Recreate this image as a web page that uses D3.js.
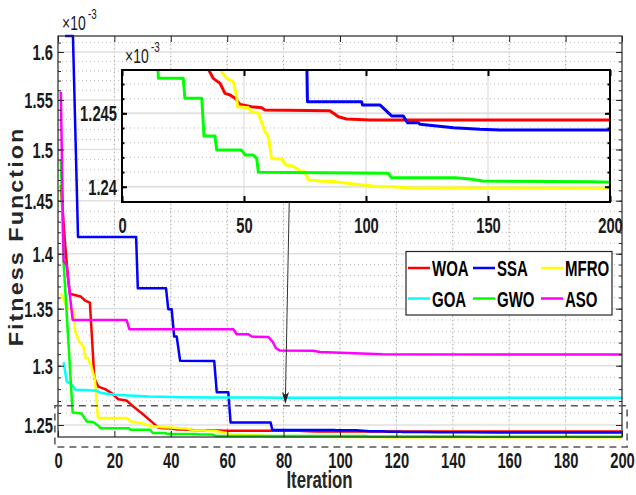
<!DOCTYPE html>
<html>
<head>
<meta charset="utf-8">
<script src="https://cdn.jsdelivr.net/npm/d3@7"></script>
<style>
  body { margin: 0; background: #fff; }
  svg { display: block; }
</style>
</head>
<body>
<svg id="chart" width="636" height="495"></svg>
<script>
// fitness values in units of 1e-3 (the axes carry the x10^-3 factor)
// each series: [iteration, fitness]
const woa = [[1,1.465],[2.5,1.41],[3.5,1.38],[4.2,1.3634],[8,1.361],[9.6,1.3573],[11.3,1.3555],[12.9,1.2893],[14.3,1.2821],[16.7,1.2800],[19,1.2766],[21.4,1.2715],[24.3,1.2704],[26.7,1.2653],[29.7,1.2598],[33.8,1.2515],[35.4,1.2480],[37.4,1.24738],[40.2,1.24704],[42.2,1.24636],[44.3,1.24625],[46.3,1.24602],[48.4,1.24561],[53.1,1.24545],[57.3,1.24538],[58.6,1.24522],[85.2,1.24518],[88.7,1.24477],[92.1,1.24461],[101.6,1.24454],[200,1.24454]];
const ssa = [[2.5,1.617],[5.3,1.617],[7.1,1.4157],[27.7,1.4157],[28.3,1.3685],[38.3,1.3685],[39.1,1.3496],[40.3,1.3496],[41.2,1.3253],[42.1,1.3253],[43.3,1.3043],[55.4,1.3040],[56.3,1.2774],[60.4,1.2774],[61.2,1.2520],[75.4,1.2520],[76,1.24579],[98.2,1.24579],[98.6,1.24557],[105.7,1.24557],[110.5,1.24482],[115.3,1.24482],[117,1.24436],[121.5,1.24436],[122.1,1.24425],[129,1.24413],[135.8,1.24402],[146.7,1.24391],[155,1.24386],[200,1.24386]];
const mfro = [[1,1.364],[3.1,1.351],[5.4,1.349],[6,1.3312],[7.2,1.3223],[9,1.3165],[9.8,1.3064],[10.7,1.3064],[12,1.2977],[13.1,1.2878],[14.1,1.2566],[14.3,1.2557],[24.3,1.2557],[26.1,1.2528],[29.7,1.2515],[33.2,1.2490],[37,1.2482],[40.2,1.2480],[42.9,1.24738],[45.6,1.24715],[47,1.24613],[47.3,1.24545],[51.8,1.24538],[53.1,1.24511],[55.9,1.245],[58.6,1.24375],[60,1.24341],[61.3,1.24193],[65.4,1.24189],[67.2,1.24148],[70.2,1.2414],[73,1.24107],[75,1.2410],[76.4,1.24046],[81.1,1.24039],[86.6,1.24035],[92.1,1.24023],[101.6,1.24007],[105,1.24],[111.2,1.24],[116.7,1.23993],[200,1.23989]];
const goa = [[2,1.303],[3.1,1.2864],[4.3,1.2850],[6.3,1.2794],[10.7,1.2790],[13.7,1.2786],[15.5,1.2767],[20,1.2752],[32.3,1.2738],[45,1.2732],[55,1.2730],[80,1.2728],[200,1.2727]];
const gwo = [[1,1.4906],[2,1.3914],[5.2,1.2603],[8.4,1.2595],[10.2,1.2528],[12.5,1.2525],[14.5,1.2490],[14.9,1.24738],[25.1,1.24738],[25.8,1.24602],[32.7,1.24602],[33.6,1.24345],[38.1,1.24345],[38.8,1.2425],[49,1.2425],[50.4,1.24216],[53.8,1.24216],[55.2,1.24193],[55.9,1.24098],[109.2,1.24091],[110.5,1.24061],[136.5,1.24061],[142.6,1.24052],[148,1.24039],[193,1.24034],[200,1.2403]];
const aso = [[1,1.5585],[2,1.393],[3,1.39],[5.2,1.340],[24.3,1.340],[25.3,1.3318],[62.2,1.3318],[63.4,1.3274],[67.5,1.3274],[68.7,1.3253],[74.6,1.3250],[76.1,1.3208],[77.3,1.3151],[78.7,1.3131],[90.5,1.3130],[92.9,1.3118],[115,1.3099],[200,1.3097]];

const names = ["WOA", "SSA", "MFRO", "GOA", "GWO", "ASO"];
const series = [woa, ssa, mfro, goa, gwo, aso];
const colors = ["#ff0000", "#0000ff", "#ffff00", "#00ffff", "#00ff00", "#ff00ff"];

const xTicks = [0, 20, 40, 60, 80, 100, 120, 140, 160, 180, 200];
const yTicks = [1.25, 1.3, 1.35, 1.4, 1.45, 1.5, 1.55, 1.6];
const yTickLabels = ["1.25", "1.3", "1.35", "1.4", "1.45", "1.5", "1.55", "1.6"];
const insetXTicks = [0, 50, 100, 150, 200];
const insetYTicks = [1.24, 1.245];
const insetYTickLabels = ["1.24", "1.245"];

// zoomed region marker and arrow (data coords of main axes)
const zoomBox = {x0: -1.1, x1: 201.8, y0: 1.232, y1: 1.266};
const arrowFrom = [82, 1.449], arrowTo = [80.6, 1.2675];

// no narrow font installed: squeeze Liberation Sans sideways and stretch it a bit up
const FONT = "'Liberation Sans',Arial,sans-serif";
const SX = 0.82, SY = 1.2;
const squeeze = `scale(${SX},${SY})`;

const svg = d3.select("#chart");
const M = {l: 58, r: 622, t: 36, b: 437};
const I = {l: 122, r: 610, t: 70, b: 202};

const x = d3.scaleLinear([0, 200], [M.l, M.r]);
const y = d3.scaleLog([1.2401, 1.617], [M.b, M.t]);
const xi = d3.scaleLinear([0, 200], [I.l, I.r]);
const yi = d3.scaleLinear([1.23896, 1.24795], [I.b, I.t]);

const yMinor = d3.range(125, 162).map(v => v / 100);
const insetYMinor = d3.range(1239, 1248).map(v => v / 1000);

const defs = svg.append("defs");
defs.append("clipPath").attr("id", "clipMain").append("rect")
  .attr("x", M.l).attr("y", M.t - 2).attr("width", M.r - M.l).attr("height", M.b - M.t + 4);
defs.append("clipPath").attr("id", "clipInset").append("rect")
  .attr("x", I.l).attr("y", I.t).attr("width", I.r - I.l).attr("height", I.b - I.t);

function tickText(sel, size) {
  sel.attr("font-family", FONT).attr("font-weight", "bold")
    .attr("font-size", size).attr("fill", "#1a1a1a").attr("transform", squeeze);
}

function label(g, tx, ty, str, size, weight) {
  return g.append("text").attr("transform", `translate(${tx},${ty}) ${squeeze}`)
    .attr("font-family", FONT).attr("font-weight", weight || "normal")
    .attr("font-size", size).attr("fill", "#1a1a1a").text(str);
}

// ---------- main axes ----------
const gm = svg.append("g");

gm.append("g").selectAll("line").data(xTicks.slice(1, -1)).join("line")
  .attr("x1", d => x(d)).attr("x2", d => x(d)).attr("y1", M.t).attr("y2", M.b)
  .attr("stroke", "#ebebeb").attr("stroke-width", 1);
gm.append("g").selectAll("line").data(xTicks.slice(1, -1)).join("line")
  .attr("x1", d => x(d)).attr("x2", d => x(d)).attr("y1", M.t).attr("y2", M.b)
  .attr("stroke", "#a8a8a8").attr("stroke-width", 1).attr("stroke-dasharray", "1,3");
gm.append("g").selectAll("line").data(yMinor.filter(v => !yTicks.some(t => Math.abs(t - v) < 1e-9))).join("line")
  .attr("x1", M.l).attr("x2", M.r).attr("y1", d => y(d)).attr("y2", d => y(d))
  .attr("stroke", "#bdbdbd").attr("stroke-width", 1).attr("stroke-dasharray", "1,3");
gm.append("g").selectAll("line").data(yTicks).join("line")
  .attr("x1", M.l).attr("x2", M.r).attr("y1", d => y(d)).attr("y2", d => y(d))
  .attr("stroke", "#e1e1e1").attr("stroke-width", 1.5);

const line = d3.line().x(d => x(d[0])).y(d => y(d[1]));
gm.append("g").attr("clip-path", "url(#clipMain)")
  .selectAll("path").data(series).join("path")
  .attr("d", line).attr("fill", "none")
  .attr("stroke", (d, i) => colors[i]).attr("stroke-width", 2.5)
  .attr("stroke-linejoin", "round");

// ticks, inward on all four sides
function mainAxis(axis, tr) {
  const g = gm.append("g").attr("transform", tr).call(axis);
  g.select(".domain").remove();
  g.selectAll(".tick line").attr("stroke", "#262626").attr("stroke-width", 1);
  return g;
}
const gx = mainAxis(d3.axisBottom(x).tickValues(xTicks).tickSize(-6).tickFormat(d => d), `translate(0,${M.b})`);
gx.selectAll("text").call(tickText, 18).attr("y", 31 / SY).attr("dy", null);
mainAxis(d3.axisTop(x).tickValues(xTicks).tickSize(-6).tickFormat(""), `translate(0,${M.t})`);
const gy = mainAxis(d3.axisLeft(y).tickValues(yTicks).tickSize(-6)
  .tickFormat((d, i) => yTickLabels[i]), `translate(${M.l},0)`);
gy.selectAll("text").call(tickText, 18).attr("x", -5 / SX).attr("y", 6.4).attr("dy", null);
mainAxis(d3.axisLeft(y).tickValues(yMinor).tickSize(-3).tickFormat(""), `translate(${M.l},0)`);
mainAxis(d3.axisRight(y).tickValues(yTicks).tickSize(-6).tickFormat(""), `translate(${M.r},0)`);
mainAxis(d3.axisRight(y).tickValues(yMinor).tickSize(-3).tickFormat(""), `translate(${M.r},0)`);

gm.append("rect").attr("x", M.l).attr("y", M.t).attr("width", M.r - M.l).attr("height", M.b - M.t)
  .attr("fill", "none").attr("stroke", "#262626").attr("stroke-width", 1.2);

// x10^-3 for main axes
label(gm, 62, 30, "×10", 17);
label(gm, 88, 19, "-3", 12);

// dashed zoom region
gm.append("rect")
  .attr("x", x(zoomBox.x0)).attr("y", y(zoomBox.y1))
  .attr("width", x(zoomBox.x1) - x(zoomBox.x0)).attr("height", y(zoomBox.y0) - y(zoomBox.y1))
  .attr("fill", "none").attr("stroke", "#555").attr("stroke-width", 1.5).attr("stroke-dasharray", "7,5");

// ---------- inset ----------
const gi = svg.append("g");
gi.append("rect").attr("x", I.l).attr("y", I.t).attr("width", I.r - I.l).attr("height", I.b - I.t).attr("fill", "#fff");
gi.append("g").selectAll("line").data(insetXTicks.slice(1, -1)).join("line")
  .attr("x1", d => xi(d)).attr("x2", d => xi(d)).attr("y1", I.t).attr("y2", I.b)
  .attr("stroke", "#e4e4e4").attr("stroke-width", 1.5);
gi.append("g").selectAll("line").data(insetYMinor.filter(v => !insetYTicks.some(t => Math.abs(t - v) < 1e-9))).join("line")
  .attr("x1", I.l).attr("x2", I.r).attr("y1", d => yi(d)).attr("y2", d => yi(d))
  .attr("stroke", "#bdbdbd").attr("stroke-width", 1).attr("stroke-dasharray", "1,3");
gi.append("g").selectAll("line").data(insetYTicks).join("line")
  .attr("x1", I.l).attr("x2", I.r).attr("y1", d => yi(d)).attr("y2", d => yi(d))
  .attr("stroke", "#e1e1e1").attr("stroke-width", 2);

const lineI = d3.line().x(d => xi(d[0])).y(d => yi(d[1]));
gi.append("g").attr("clip-path", "url(#clipInset)")
  .selectAll("path").data(series).join("path")
  .attr("d", lineI).attr("fill", "none")
  .attr("stroke", (d, i) => colors[i]).attr("stroke-width", 3)
  .attr("stroke-linejoin", "round");

function insetAxis(axis, tr) {
  const g = gi.append("g").attr("transform", tr).call(axis);
  g.select(".domain").remove();
  g.selectAll(".tick line").attr("stroke", "#000").attr("stroke-width", 2);
  return g;
}
const gix = insetAxis(d3.axisBottom(xi).tickValues(insetXTicks).tickSize(-6).tickFormat(d => d), `translate(0,${I.b})`);
gix.selectAll("text").call(tickText, 18).attr("y", 31 / SY).attr("dy", null);
insetAxis(d3.axisTop(xi).tickValues(insetXTicks).tickSize(-6).tickFormat(""), `translate(0,${I.t})`);
const giy = insetAxis(d3.axisLeft(yi).tickValues(insetYTicks).tickSize(-5)
  .tickFormat((d, i) => insetYTickLabels[i]), `translate(${I.l},0)`);
giy.selectAll("text").call(tickText, 18).attr("x", -5 / SX).attr("y", 6.4).attr("dy", null);
insetAxis(d3.axisLeft(yi).tickValues(insetYMinor).tickSize(-2.5).tickFormat(""), `translate(${I.l},0)`);
insetAxis(d3.axisRight(yi).tickValues(insetYTicks).tickSize(-5).tickFormat(""), `translate(${I.r},0)`);
insetAxis(d3.axisRight(yi).tickValues(insetYMinor).tickSize(-2.5).tickFormat(""), `translate(${I.r},0)`);

gi.append("rect").attr("x", I.l).attr("y", I.t).attr("width", I.r - I.l).attr("height", I.b - I.t)
  .attr("fill", "none").attr("stroke", "#000").attr("stroke-width", 2);

label(gi, 125, 63, "×10", 17);
label(gi, 151, 52, "-3", 12);

// ---------- arrow ----------
{
  const x1 = x(arrowFrom[0]), y1 = y(arrowFrom[1]), x2 = x(arrowTo[0]), y2 = y(arrowTo[1]);
  const a = Math.atan2(y2 - y1, x2 - x1), L = 12, w = 3.5, back = 3;
  const ux = Math.cos(a), uy = Math.sin(a), px = -uy, py = ux;
  const bx = x2 - ux * L, by = y2 - uy * L;
  svg.append("line").attr("x1", x1).attr("y1", y1).attr("x2", x2 - ux * 6).attr("y2", y2 - uy * 6)
    .attr("stroke", "#333").attr("stroke-width", 1);
  svg.append("path")
    .attr("d", `M${x2},${y2}L${bx + px * w},${by + py * w}L${x2 - ux * (L - back)},${y2 - uy * (L - back)}L${bx - px * w},${by - py * w}Z`)
    .attr("fill", "#222");
}

// ---------- legend ----------
const lg = svg.append("g");
lg.append("rect").attr("x", 406).attr("y", 251.5).attr("width", 206).attr("height", 63.5)
  .attr("fill", "#fff").attr("stroke", "#262626").attr("stroke-width", 1.2);
const colX = [408, 473, 541], rowY = [268, 298.5];
names.forEach((n, i) => {
  const cx = colX[i % 3], cy = rowY[Math.floor(i / 3)];
  lg.append("line").attr("x1", cx).attr("x2", cx + 22).attr("y1", cy).attr("y2", cy)
    .attr("stroke", colors[i]).attr("stroke-width", 2.5);
  label(lg, cx + 24, cy + 8.4, n, 18.3, "bold").attr("fill", "#000");
});

// ---------- axis titles ----------
label(svg, 319.5, 488, "Iteration", 20.5, "bold").attr("text-anchor", "middle").attr("fill", "#262626");
svg.append("text").attr("transform", `translate(23,236.5) rotate(-90) scale(${SY},1)`)
  .attr("text-anchor", "middle").attr("font-family", FONT)
  .attr("font-weight", "bold").attr("font-size", 19.5).attr("letter-spacing", 1.7)
  .attr("fill", "#262626").text("Fitness Function");
</script>
</body>
</html>
